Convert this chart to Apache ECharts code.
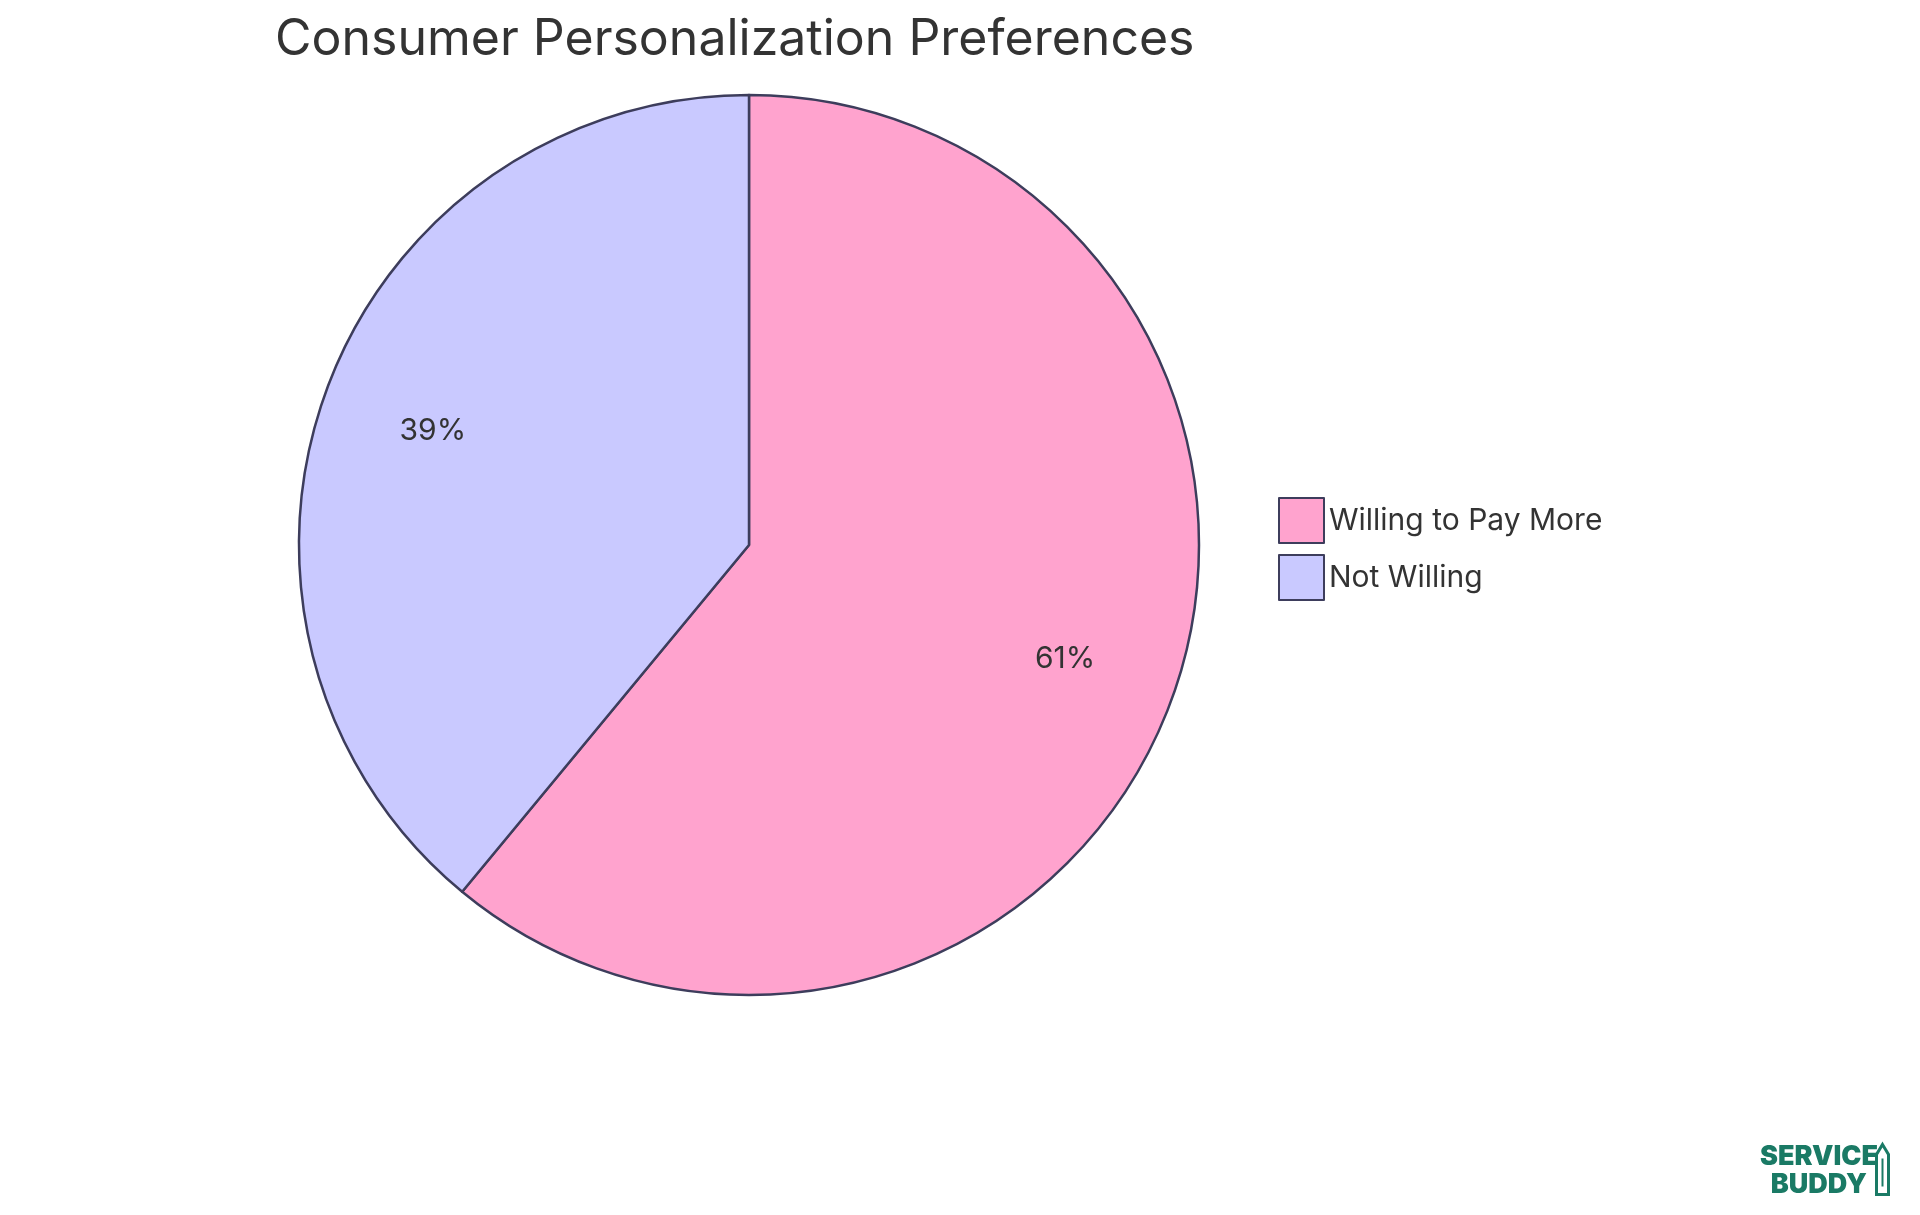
<!DOCTYPE html>
<html>
<head>
<meta charset="utf-8">
<script src="https://cdn.jsdelivr.net/npm/echarts@6/dist/echarts.min.js"></script>
<style>html,body{margin:0;background:#fff}#main{width:1920px;height:1215px}</style>
</head>
<body>
<div id="main"></div>
<script>
var categories = ['Willing to Pay More', 'Not Willing'];
var values = [61, 39];
var colors = ['#FFA3CE', '#C9C9FF'];

var chart = echarts.init(document.getElementById('main'));
var data = categories.map(function (c, i) {
  return { name: c, value: values[i], itemStyle: { color: colors[i] } };
});

chart.setOption({
  animation: false,
  textStyle: { fontFamily: 'Inter' },
  title: {
    text: 'Consumer Personalization Preferences',
    left: 270, top: 10,
    textStyle: { fontSize: 50, fontWeight: 'normal', color: '#333', fontFamily: 'Inter' }
  },
  legend: {
    orient: 'vertical', left: 1273, top: 492,
    itemWidth: 45, itemHeight: 45, itemGap: 10,
    icon: 'rect',
    textStyle: { fontSize: 30, color: '#333', fontFamily: 'Inter' },
    data: categories
  },
  series: [
    {
      type: 'pie', center: [749, 545], radius: [0, 450],
      startAngle: 90, clockwise: true,
      label: { show: false }, labelLine: { show: false },
      itemStyle: { borderColor: '#3d3d5c', borderWidth: 2.5 },
      emphasis: { disabled: true },
      data: data
    },
    {
      type: 'pie', center: [749, 545], radius: [0, 666],
      startAngle: 90, clockwise: true, silent: true,
      label: { show: true, position: 'inside', formatter: '{c}%', fontSize: 30, color: '#333', fontFamily: 'Inter' },
      itemStyle: { color: 'rgba(0,0,0,0)' },
      data: categories.map(function (c, i) { return { name: c + ' label', value: values[i] }; })
    }
  ],
  graphic: [
    {
      type: 'text', left: 1760, top: 1143,
      style: { text: 'SERVICE\n  BUDDY', fill: '#1a7a65', font: '900 27px Inter', lineHeight: 28 }
    },
    {
      type: 'group', left: 1875, top: 1143,
      children: [
        { type: 'polygon', shape: { points: [[6, 0], [12, 10], [12, 50], [0, 50], [0, 10]] }, style: { fill: '#fff', stroke: '#1a7a65', lineWidth: 3 } },
        { type: 'line', shape: { x1: 6, y1: 14, x2: 6, y2: 42 }, style: { stroke: '#1a7a65', lineWidth: 2 } }
      ]
    }
  ]
});
</script>
</body>
</html>
